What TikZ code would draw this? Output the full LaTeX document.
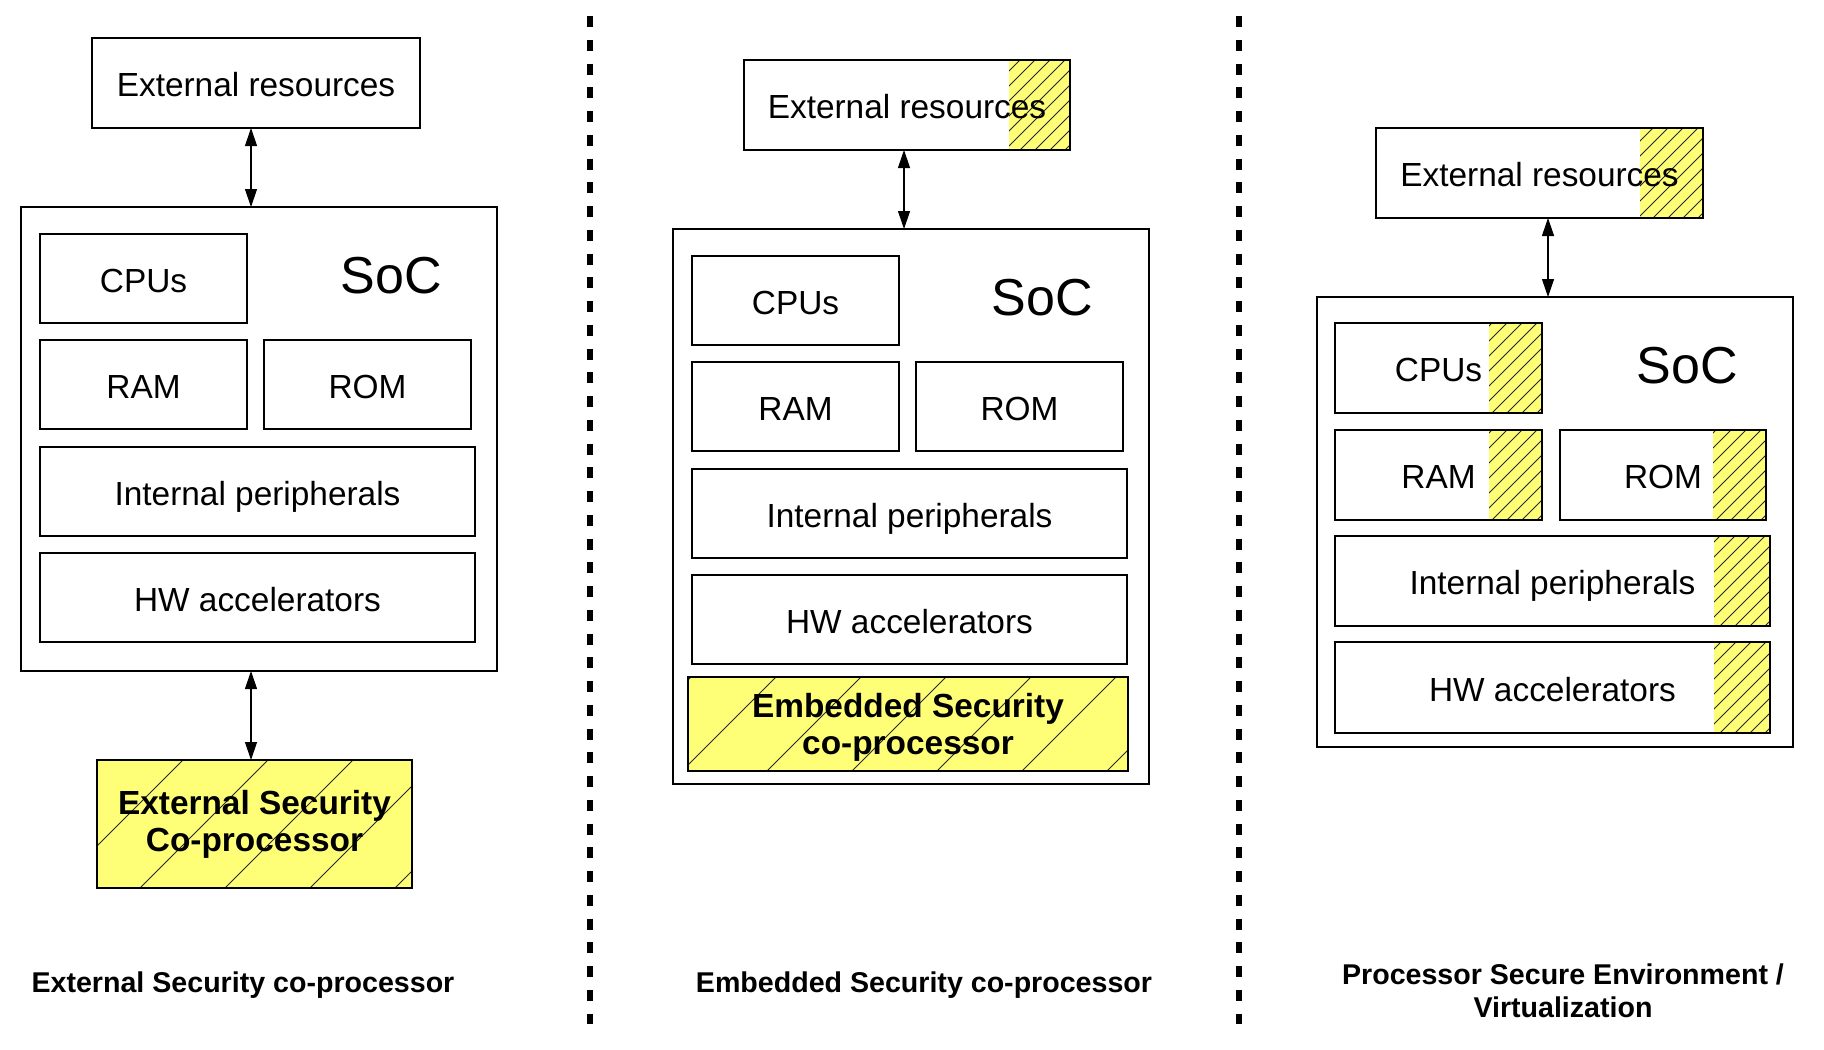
\documentclass[tikz,border=0pt]{standalone}
\usepackage{fontspec}
\setmainfont{Liberation Sans}
\usetikzlibrary{arrows.meta}
\definecolor{hy}{RGB}{255,255,119}
\newcommand\hatchpic[3]{%
   \begin{scope}
   \clip ([xshift=-#1*0.5pt]path picture bounding box.north east) rectangle (path picture bounding box.south east);
   \fill[hy] ([xshift=-#1*0.5pt]path picture bounding box.north east) rectangle (path picture bounding box.south east);
   \foreach \k in {0,...,40}
     \draw[hl] ([xshift=-#3*0.5pt-\k*#2*0.5pt]path picture bounding box.south east) -- ++(300pt,300pt);
   \end{scope}}
\tikzset{
 box/.style={draw, line width=1.3pt, fill=white, inner sep=0pt, outer sep=0pt,
   font=\fontsize{16.7pt}{20pt}\selectfont, text height=1.36em, text depth=0pt},
 sz/.style 2 args={minimum width={#1*0.5pt}, minimum height={#2*0.5pt}},
 hl/.style={line width=0.5pt, black!85},
 hatchR/.style n args={3}{path picture={\hatchpic{#1}{#2}{#3}}},
 arr/.style={{Triangle[length=9pt,width=6pt]}-{Triangle[length=9pt,width=6pt]}, line width=0.6pt},
 sepline/.style={line width=3pt, dash pattern=on 5.5pt off 6.375pt},
 captxt/.style={font=\fontsize{14.3pt}{16.5pt}\selectfont\bfseries, align=center},
 soctxt/.style={font=\fontsize{26pt}{30pt}\selectfont, inner sep=0pt},
 boldtxt/.style={font=\fontsize{16.7pt}{18.5pt}\selectfont\bfseries, align=center}
}
\begin{document}
\begin{tikzpicture}[x=0.5pt,y=-0.5pt]
\useasboundingbox (0,0) rectangle (1824,1049);
\fill[white] (0,0) rectangle (1824,1049);

% separators
\coordinate (d1t) at (590,16);
\coordinate (d1b) at (590,1024);
\coordinate (d2t) at (1239,16);
\coordinate (d2b) at (1239,1024);
\draw[sepline] (d1t) -- (d1b);
\draw[sepline] (d2t) -- (d2b);

% ---------- left column ----------
\node[box, sz={328}{90}] (ext1) at (256,83) {External resources};
\node[box, sz={476}{464}] (soc1) at (259,439) {};
\node[soctxt] (soct1) at (391,276) {SoC};
\node[box, sz={207}{89}] (cpu1) at (143.5,278.5) {CPUs};
\node[box, sz={207}{89}] (ram1) at (143.5,384.5) {RAM};
\node[box, sz={207}{89}] (rom1) at (367.5,384.5) {ROM};
\node[box, sz={435}{89}] (ip1) at (257.5,491.5) {Internal peripherals};
\node[box, sz={435}{89}] (hw1) at (257.5,597.5) {HW accelerators};
\node[box, sz={315}{128}, hatchR={315}{85}{17}] (sec1) at (254.5,824) {};
\node[boldtxt] (sec1t) at (254.5,824.5) {External Security\\Co-processor};
\coordinate (ax1) at (251,0);
\draw[arr] (ext1.south -| ax1) -- (soc1.north -| ax1);
\draw[arr] (soc1.south -| ax1) -- (sec1.north -| ax1);
\node[captxt] (cap1) at (243,985) {External Security co-processor};

% ---------- middle column ----------
\node[box, sz={326}{90}, hatchR={61}{15}{5}] (ext2) at (907,105) {External resources};
\node[box, sz={476}{555}] (soc2) at (911,506.5) {};
\node[soctxt] (soct2) at (1042,298) {SoC};
\node[box, sz={207}{89}] (cpu2) at (795.5,300.5) {CPUs};
\node[box, sz={207}{89}] (ram2) at (795.5,406.5) {RAM};
\node[box, sz={207}{89}] (rom2) at (1019.5,406.5) {ROM};
\node[box, sz={435}{89}] (ip2) at (909.5,513.5) {Internal peripherals};
\node[box, sz={435}{89}] (hw2) at (909.5,619.5) {HW accelerators};
\node[box, sz={440}{94}, hatchR={440}{85}{21}] (sec2) at (908,724) {};
\node[boldtxt] (sec2t) at (908,727.5) {Embedded Security\\co-processor};
\coordinate (ax2) at (904,0);
\draw[arr] (ext2.south -| ax2) -- (soc2.north -| ax2);
\node[captxt] (cap2) at (924,985) {Embedded Security co-processor};

% ---------- right column ----------
\node[box, sz={327}{90}, hatchR={63}{15}{5}] (ext3) at (1539.5,173) {External resources};
\node[box, sz={476}{450}] (soc3) at (1555,522) {};
\node[soctxt] (soct3) at (1687,366) {SoC};
\node[box, sz={207}{90}, hatchR={53}{15}{5}] (cpu3) at (1438.5,368) {CPUs};
\node[box, sz={207}{90}, hatchR={53}{15}{5}] (ram3) at (1438.5,475) {RAM};
\node[box, sz={206}{90}, hatchR={53}{15}{5}] (rom3) at (1663,475) {ROM};
\node[box, sz={435}{90}, hatchR={56}{15}{5}] (ip3) at (1552.5,581) {Internal peripherals};
\node[box, sz={435}{91}, hatchR={56}{15}{5}] (hw3) at (1552.5,687.5) {HW accelerators};
\coordinate (ax3) at (1548,0);
\draw[arr] (ext3.south -| ax3) -- (soc3.north -| ax3);
\node[captxt] (cap3) at (1563,991) {Processor Secure Environment /\\Virtualization};
\end{tikzpicture}
\end{document}
